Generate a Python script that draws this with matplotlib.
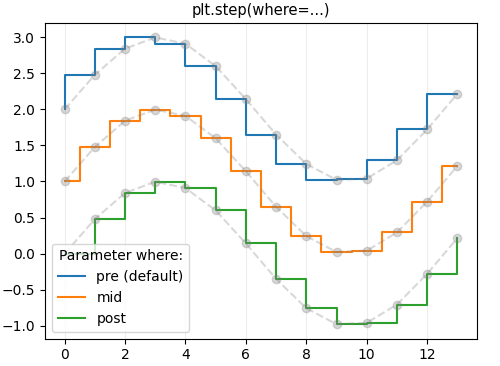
import matplotlib.pyplot as plt

x = [0, 1, 2, 3, 4, 5, 6, 7, 8, 9, 10, 11, 12, 13]
y = [0.0, 0.479, 0.841, 0.997, 0.909, 0.598, 0.141, -0.351,
     -0.757, -0.978, -0.959, -0.706, -0.279, 0.215]

y_pre = [v + 2 for v in y]
y_mid = [v + 1 for v in y]

fig = plt.figure(figsize=(5, 3.66), dpi=100)

plt.step(x, y_pre, label='pre (default)')
plt.plot(x, y_pre, 'o--', color='grey', alpha=0.3)

plt.step(x, y_mid, where='mid', label='mid')
plt.plot(x, y_mid, 'o--', color='grey', alpha=0.3)

plt.step(x, y, where='post', label='post')
plt.plot(x, y, 'o--', color='grey', alpha=0.3)

plt.grid(axis='x', color='0.93')
plt.legend(title='Parameter where:', loc='lower left')
plt.title('plt.step(where=...)', fontsize=10.5)

plt.subplots_adjust(left=0.09, right=0.954, top=0.937, bottom=0.075)
plt.savefig('out.png')
